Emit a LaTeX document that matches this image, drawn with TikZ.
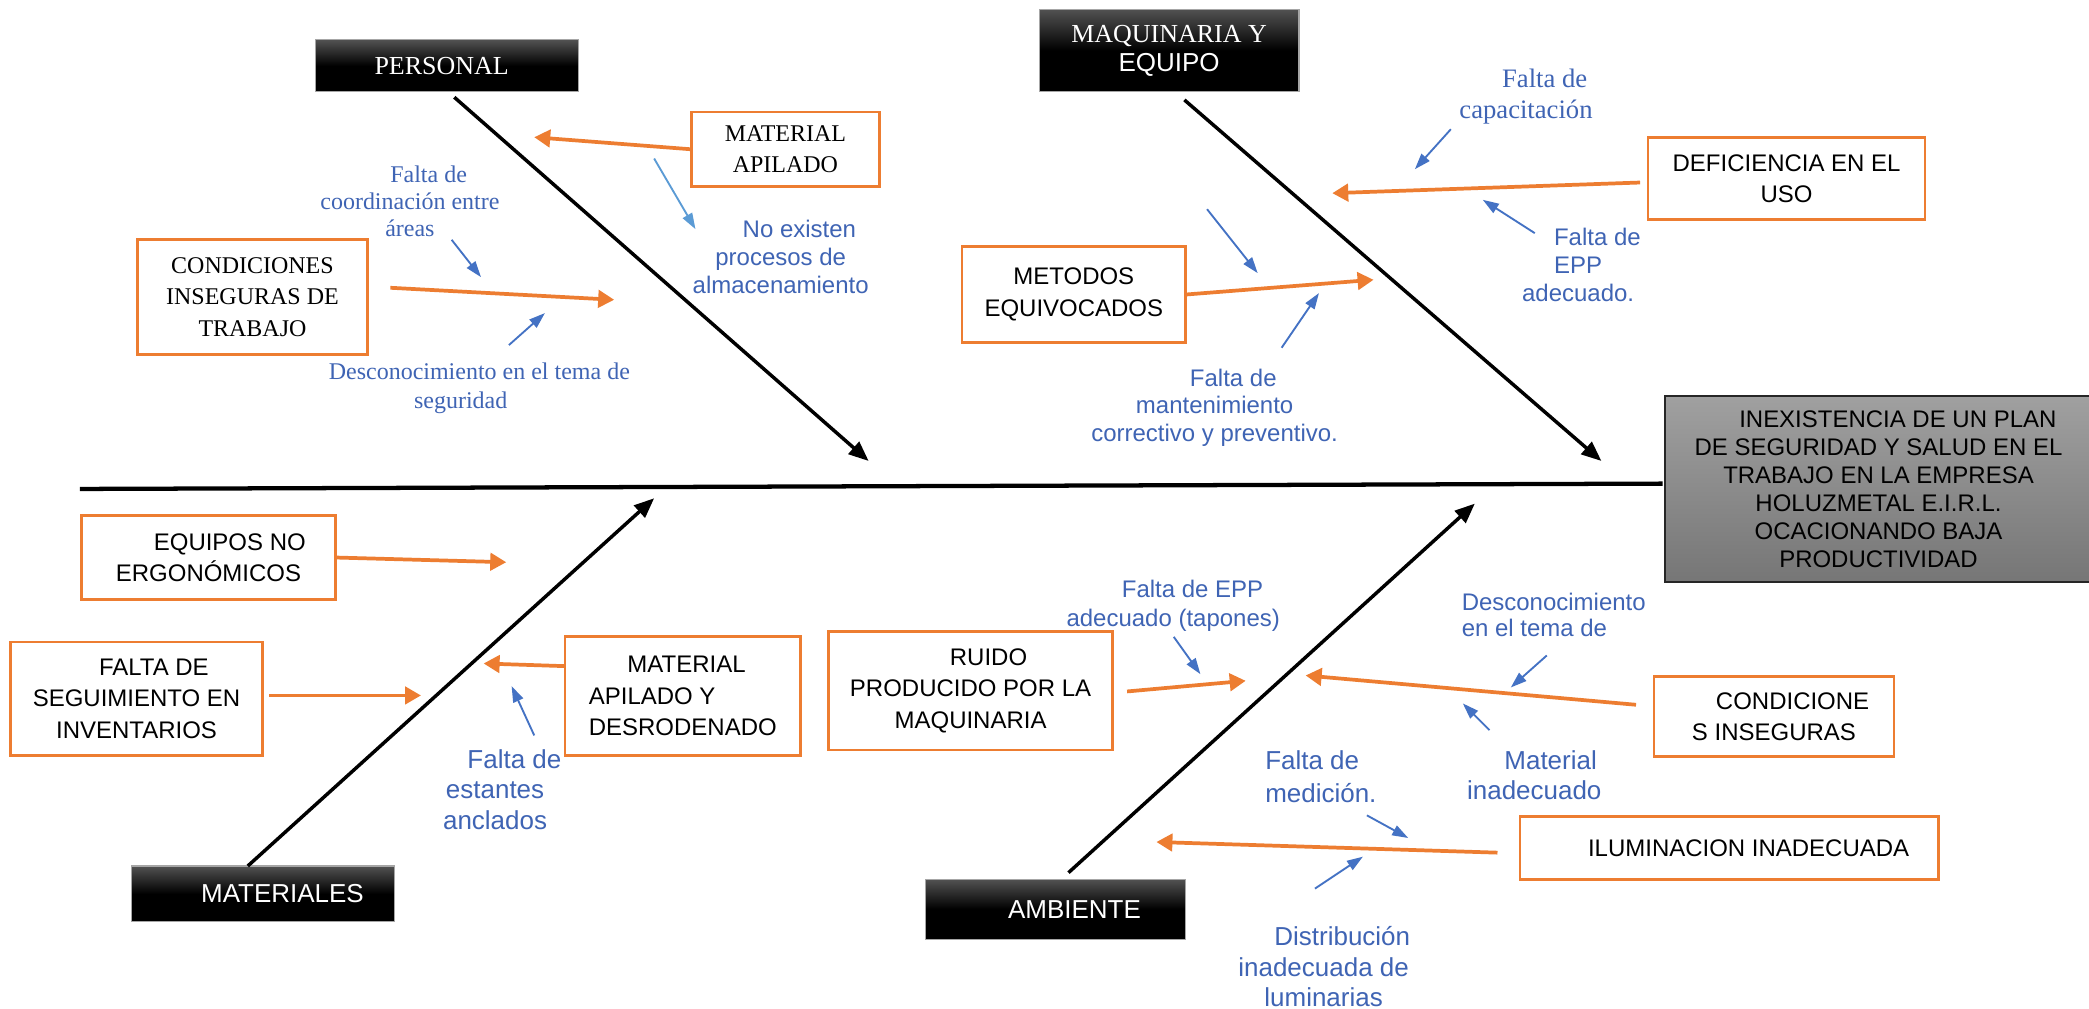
\documentclass[tikz,border=0pt]{standalone}
\usepackage{fontspec}
\setmainfont{Liberation Sans}
\newfontfamily\seriffont{Liberation Serif}
\newfontfamily\sansfont{Liberation Sans}
\usetikzlibrary{arrows.meta}
\definecolor{orng}{HTML}{ED7D31}
\definecolor{bl}{HTML}{4472C4}
\definecolor{lbl}{HTML}{5B9BD5}
\definecolor{bltext}{HTML}{3F64B4}
\definecolor{efftop}{HTML}{A0A0A0}
\definecolor{effbot}{HTML}{767676}
\begin{document}
\begin{tikzpicture}[x=1pt,y=-1pt,
  cat/.style={draw=gray!70, line width=0.8pt, top color=black!68, bottom color=black, middle color=black, text=white, inner sep=0pt, align=center, font=\fontsize{19.5}{22}\selectfont},
  obox/.style={draw=orng, line width=2pt, fill=white, inner sep=0pt, align=center, font=\fontsize{18}{23.5}\selectfont},
  bone/.style={line width=2.6pt, -{Triangle[length=15pt,width=12pt]}},
  oarr/.style={draw=orng, line width=2.8pt, -{Triangle[length=12pt,width=13pt]}},
  barr/.style={draw=bl, line width=1.4pt, -{Triangle[length=12pt,width=8pt]}},
  btxt/.style={text=bltext, inner sep=0pt, align=center},
]
\useasboundingbox (0,0) rectangle (1568,757);
\fill[white] (0,0) rectangle (1568,757);

% effect box
\node[draw=black!85, line width=1.5pt, top color=efftop, bottom color=effbot, inner sep=0pt,
      minimum width=320pt, minimum height=140pt, align=center, font=\fontsize{18}{21}\selectfont]
  (effect) at (1410,367)
  {\hspace*{29pt}INEXISTENCIA DE UN PLAN\\DE SEGURIDAD Y SALUD EN EL\\TRABAJO EN LA EMPRESA\\HOLUZMETAL E.I.R.L.\\OCACIONANDO BAJA\\PRODUCTIVIDAD};

% category boxes
\node[cat, minimum width=197pt, minimum height=39pt] (personal) at (335.5,49.5) {\seriffont PERSONAL\hspace*{8pt}};
\node[cat, minimum width=195pt, minimum height=62pt] (maq) at (877.5,38) {\seriffont MAQUINARIA Y\\\sansfont EQUIPO};
\node[cat, minimum width=197pt, minimum height=42pt] (materiales) at (197.5,671) {\hspace*{29pt}MATERIALES};
\node[cat, minimum width=195pt, minimum height=45pt] (ambiente) at (792.5,682.5) {\hspace*{28pt}AMBIENTE};

% spine
\coordinate (spL) at (60,367);
\coordinate (spR) at (1248,363);
\draw[line width=3.2pt] (spL) -- (spR);

% bones
\coordinate (b1s) at (341,73);  \coordinate (b1e) at (652,346);
\coordinate (b2s) at (889,75);  \coordinate (b2e) at (1202,346);
\coordinate (b3s) at (186,650); \coordinate (b3e) at (491,374);
\coordinate (b4s) at (802,655); \coordinate (b4e) at (1107,378);
\draw[bone] (b1s) -- (b1e);
\draw[bone] (b2s) -- (b2e);
\draw[bone] (b3s) -- (b3e);
\draw[bone] (b4s) -- (b4e);

% orange cause boxes
\node[obox, minimum width=141pt, minimum height=56pt] (mat1) at (589.5,112) {\seriffont MATERIAL\\\seriffont APILADO};
\node[obox, minimum width=173pt, minimum height=86pt] (cond1) at (189.5,223) {\seriffont CONDICIONES\\\seriffont INSEGURAS DE\\\seriffont TRABAJO};
\node[obox, minimum width=168pt, minimum height=72pt] (met) at (806,221) {METODOS\\EQUIVOCADOS};
\node[obox, minimum width=208pt, minimum height=62pt] (def) at (1341,134) {DEFICIENCIA EN EL\\USO};
\node[obox, minimum width=191pt, minimum height=63pt] (equ) at (156.5,418.5) {\hspace*{32pt}EQUIPOS NO\\ERGONÓMICOS};
\node[obox, minimum width=189pt, minimum height=85pt] (fal) at (102.5,524.5) {\hspace*{26pt}FALTA DE\\SEGUIMIENTO EN\\INVENTARIOS};
\node[obox, minimum width=177pt, minimum height=89pt, align=left] (mat2) at (512.5,522.5) {\hspace*{29pt}MATERIAL\\APILADO Y\\DESRODENADO};
\node[obox, minimum width=213pt, minimum height=89pt] (ruido) at (728.5,518.5) {\hspace*{27pt}RUIDO\\PRODUCIDO POR LA\\MAQUINARIA};
\node[obox, minimum width=180pt, minimum height=60pt] (cond2) at (1331.5,538) {\hspace*{28pt}CONDICIONE\\S INSEGURAS};
\node[obox, minimum width=314pt, minimum height=47pt] (ilum) at (1298,636.5) {\hspace*{29pt}ILUMINACION INADECUADA};

% orange arrows
\coordinate (o1e) at (401,103);
\coordinate (o2s) at (293,216);  \coordinate (o2e) at (461,225);
\coordinate (o3e) at (1031,210);
\coordinate (o4s) at (1231,137); \coordinate (o4e) at (1000,145);
\coordinate (o5e) at (380,422);
\coordinate (o6s) at (202,522);  \coordinate (o6e) at (316,522);
\coordinate (o7s) at (424,500);  \coordinate (o7e) at (363,498);
\coordinate (o8s) at (846,519);  \coordinate (o8e) at (935,511);
\coordinate (o9s) at (1228,529); \coordinate (o9e) at (980,507);
\coordinate (o10s) at (1124,640); \coordinate (o10e) at (868,632);
\draw[oarr] (mat1.west) -- (o1e);
\draw[oarr] (o2s) -- (o2e);
\draw[oarr] (met.east) -- (o3e);
\draw[oarr] (o4s) -- (o4e);
\draw[oarr] (equ.east) -- (o5e);
\draw[oarr] (o6s) -- (o6e);
\draw[oarr] (o7s) -- (o7e);
\draw[oarr] (o8s) -- (o8e);
\draw[oarr] (o9s) -- (o9e);
\draw[oarr] (o10s) -- (o10e);

% blue sub-cause texts
\node[btxt, font=\fontsize{18}{20.5}\selectfont] (bt1) at (307.7,151) {\seriffont\hspace*{28pt}Falta de\\\seriffont coordinación entre\\\seriffont áreas};
\node[btxt, font=\fontsize{18}{22}\selectfont] (bt2) at (345.8,291.5) {\seriffont\hspace*{28pt}Desconocimiento en el tema de\\\seriffont seguridad};
\node[btxt, font=\fontsize{18}{21}\selectfont] (bt3) at (586,192.5) {\hspace*{28pt}No existen\\procesos de\\almacenamiento};
\node[btxt, font=\fontsize{20}{24}\selectfont] (bt4) at (1145.4,72.5) {\seriffont\hspace*{28pt}Falta de\\\seriffont capacitación};
\node[btxt, align=left, font=\fontsize{18}{21}\selectfont] (bt5) at (1187,198.5) {\hspace*{24pt}Falta de\\\hspace*{24pt}EPP\\adecuado.};
\node[btxt, font=\fontsize{18}{20.5}\selectfont] (bt6) at (911.7,306) {\hspace*{28pt}Falta de\\mantenimiento\\correctivo y preventivo.};
\node[btxt, font=\fontsize{19.5}{23}\selectfont] (bt7) at (371.6,592.5) {\hspace*{29pt}Falta de\\estantes\\anclados};
\node[btxt, font=\fontsize{18}{22}\selectfont] (bt8) at (880.6,454.5) {\hspace*{29pt}Falta de EPP\\adecuado (tapones)};
\node[btxt, align=left, anchor=west, font=\fontsize{18}{20}\selectfont] (bt9) at (1097,461.5) {Desconocimiento\\en el tema de};
\node[btxt, align=left, anchor=west, font=\fontsize{19.5}{23}\selectfont] (bt10) at (1101,582) {\hspace*{28pt}Material\\inadecuado};
\node[btxt, align=left, anchor=west, font=\fontsize{19.5}{25}\selectfont] (bt11) at (949.5,583) {Falta de\\medición.};
\node[btxt, font=\fontsize{19.5}{23}\selectfont] (bt12) at (993.5,725.5) {\hspace*{28pt}Distribución\\inadecuada de\\luminarias};

% blue arrows
\coordinate (a1s) at (339,180);  \coordinate (a1e) at (361,208);
\coordinate (a2s) at (382,259);  \coordinate (a2e) at (409,235);
\coordinate (a3s) at (491,119);  \coordinate (a3e) at (522,172);
\coordinate (a4s) at (1089,97);  \coordinate (a4e) at (1062,127);
\coordinate (a5s) at (1152,175); \coordinate (a5e) at (1113,150);
\coordinate (a6s) at (906,157);  \coordinate (a6e) at (944,205);
\coordinate (a7s) at (962,261);  \coordinate (a7e) at (990,220);
\coordinate (a8s) at (401,552);  \coordinate (a8e) at (384,515);
\coordinate (a9s) at (881,478);  \coordinate (a9e) at (901,506);
\coordinate (a10s) at (1161,492); \coordinate (a10e) at (1134,516);
\coordinate (a11s) at (1118,548); \coordinate (a11e) at (1098,528);
\coordinate (a12s) at (1026,612); \coordinate (a12e) at (1057,629);
\coordinate (a13s) at (987,667);  \coordinate (a13e) at (1023,643);
\draw[barr] (a1s) -- (a1e);
\draw[barr] (a2s) -- (a2e);
\draw[barr, draw=lbl] (a3s) -- (a3e);
\draw[barr] (a4s) -- (a4e);
\draw[barr] (a5s) -- (a5e);
\draw[barr] (a6s) -- (a6e);
\draw[barr] (a7s) -- (a7e);
\draw[barr] (a8s) -- (a8e);
\draw[barr] (a9s) -- (a9e);
\draw[barr] (a10s) -- (a10e);
\draw[barr] (a11s) -- (a11e);
\draw[barr] (a12s) -- (a12e);
\draw[barr] (a13s) -- (a13e);
\end{tikzpicture}
\end{document}
